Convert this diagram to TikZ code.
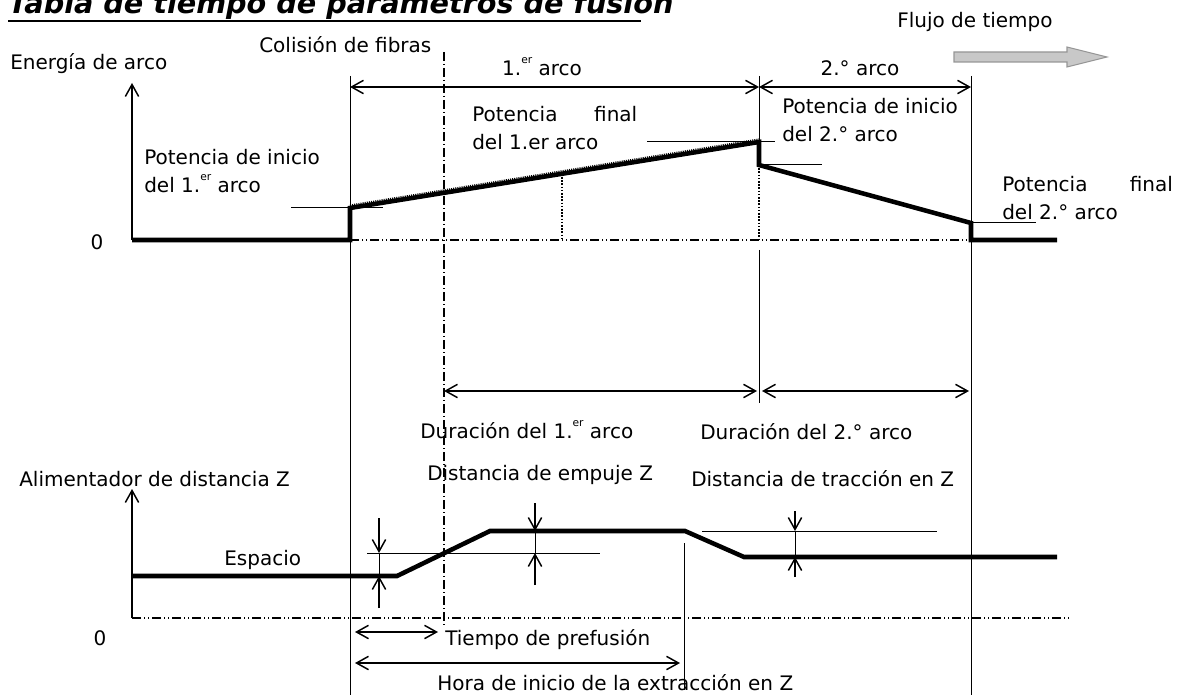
\documentclass[tikz,border=0pt]{standalone}
\usepackage{fontspec}
\setmainfont{DejaVu Sans}
\usetikzlibrary{arrows.meta}
\definecolor{arrowgray}{RGB}{200,200,200}
\definecolor{arrowedge}{RGB}{150,150,150}
\newcommand\supr[1]{\raisebox{0.6em}{\fontsize{8pt}{8pt}\selectfont #1}}
\begin{document}
\begin{tikzpicture}[x=0.75pt,y=-0.75pt,
  font=\fontsize{15pt}{21pt}\selectfont,
  thinln/.style={line width=0.75pt},
  axisln/.style={line width=1.1pt,-{Straight Barb[length=9pt,width=10pt]}},
  thickln/.style={line width=3.4pt},
  dimarr/.style={line width=1.1pt,{Straight Barb[length=9pt,width=10pt]}-{Straight Barb[length=9pt,width=10pt]}},
  onearr/.style={line width=1.1pt,-{Straight Barb[length=9pt,width=10pt]}},
  dashdot/.style={line width=0.9pt,dash pattern=on 7pt off 2pt on 1pt off 2pt},
  dashdotdot/.style={line width=0.9pt,dash pattern=on 7pt off 2pt on 1pt off 2pt on 1pt off 2pt},
  dotln/.style={line width=1.6pt,dash pattern=on 1.2pt off 1.2pt},
  lbl/.style={anchor=west,inner sep=0pt,align=left}]
\useasboundingbox (0,0) rectangle (1177,695);

% title
\node[anchor=base west,inner sep=0pt,font=\fontsize{21.5pt}{23pt}\selectfont\bfseries\itshape] (title) at (8,14) {Tabla de tiempo de parámetros de fusión};
\coordinate (u1) at (8,21); \coordinate (u2) at (641,21);
\draw[line width=1.6pt] (u1) -- (u2);

% time flow arrow
\node[lbl] (flujo) at (897,22) {Flujo de tiempo};
\draw[fill=arrowgray,draw=arrowedge,line width=0.8pt] (954,52) -- (1067,52) -- (1067,47) -- (1107,57) -- (1067,67) -- (1067,62) -- (954,62) -- cycle;

% labels top
\node[lbl] (colision) at (259,45) {Colisión de fibras};
\node[lbl] (energia) at (10,64) {Energía de arco};
\node[inner sep=0pt] (arco1) at (542,67) {1.\supr{er} arco};
\node[inner sep=0pt] (arco2) at (860,68) {2.° arco};
\node[lbl] (pi1) at (144,171) {Potencia de inicio\\del 1.\supr{er} arco};
\node[lbl] (pf1) at (472,128) {\makebox[123.75pt][l]{Potencia\hfill final}\\del 1.er arco};
\node[lbl] (pi2) at (782,120) {Potencia de inicio\\del 2.° arco};
\node[lbl] (pf2) at (1002,198) {\makebox[128pt][l]{Potencia\hfill final}\\del 2.° arco};
\node[inner sep=0pt] (cero1) at (97,242) {0};

% key coordinates top graph
\coordinate (A0) at (132,83);
\coordinate (A1) at (132,240);
\coordinate (S1) at (350,240);
\coordinate (S2) at (350,208);
\coordinate (E1) at (759,142);
\coordinate (E2) at (759,165);
\coordinate (F1) at (971,223);
\coordinate (F2) at (971,240);
\coordinate (F3) at (1057,240);
\coordinate (S2u) at (350,205.5);
\coordinate (E1u) at (759,139.5);

% vertical reference lines
\coordinate (v1t) at (350,76); \coordinate (v1b) at (350,695);
\coordinate (v3t) at (971,76); \coordinate (v3b) at (971,695);
\coordinate (v2t) at (759,76);
\coordinate (v2m) at (759,250); \coordinate (v2b) at (759,403);
\coordinate (ddt) at (444,52); \coordinate (ddb) at (444,625);
\draw[thinln] (v1t) -- (v1b);
\draw[thinln] (v3t) -- (v3b);
\draw[thinln] (v2t) -- (E1);
\draw[thinln] (v2m) -- (v2b);
\draw[dashdot] (ddt) -- (ddb);

% dimension arrows top
\coordinate (d1a) at (350,87); \coordinate (d1b) at (759,87); \coordinate (d2b) at (971,87);
\draw[dimarr] (d1a) -- (d1b);
\draw[dimarr] (d1b) -- (d2b);

% top graph
\draw[axisln] (A1) -- (A0);
\draw[dashdotdot] (S1) -- (F2);
\coordinate (dt1) at (562,177); \coordinate (db1) at (562,240);
\draw[dotln] (dt1) -- (db1);
\draw[dotln] (E2) -- (759,240);
\draw[thickln] (A1) -- (S1) -- (S2) -- (E1) -- (E2) -- (F1) -- (F2) -- (F3);
\draw[line width=1.6pt,dash pattern=on 0.8pt off 0.8pt] (S2u) -- (E1u);
% level marks
\draw[thinln] (291,208) -- (383,208);
\draw[thinln] (647,142) -- (775,142);
\draw[thinln] (E2) -- (822,165);
\draw[thinln] (F1) -- (1036,223);

% durations
\coordinate (du1a) at (444,391); \coordinate (du1b) at (757,391);
\coordinate (du2a) at (762,391); \coordinate (du2b) at (969,391);
\draw[dimarr] (du1a) -- (du1b);
\draw[dimarr] (du2a) -- (du2b);
\node[lbl] (dur1) at (420,430) {Duración del 1.\supr{er} arco};
\node[lbl] (dur2) at (700,432) {Duración del 2.° arco};
\node[lbl] (emp) at (427,475) {Distancia de empuje Z};
\node[lbl] (trac) at (691,479) {Distancia de tracción en Z};
\node[lbl] (alim) at (19,479) {Alimentador de distancia Z};

% lower graph
\coordinate (B0) at (132,489);
\coordinate (B1) at (132,618);
\coordinate (Z1) at (132,576);
\coordinate (Z2) at (397,576);
\coordinate (Z3) at (490,531);
\coordinate (Z4) at (685,531);
\coordinate (Z5) at (744,557);
\coordinate (Z6) at (1057,557);
\coordinate (B2) at (1070,618);
\draw[axisln] (B1) -- (B0);
\draw[dashdotdot] (B1) -- (B2);
\draw[thickln] (Z1) -- (Z2) -- (Z3) -- (Z4) -- (Z5) -- (Z6);
\node[lbl] (esp) at (224,560) {Espacio};
\node[inner sep=0pt] (cero2) at (100,638) {0};

% level marks lower
\draw[thinln] (367,553) -- (600,553);
\draw[thinln] (702,531) -- (937,531);
% gap markers
\draw[onearr] (379,518) -- (379,553);
\draw[thinln] (379,553) -- (379,576);
\draw[onearr] (379,608) -- (379,576);
\draw[onearr] (535,503) -- (535,531);
\draw[thinln] (535,531) -- (535,553);
\draw[onearr] (535,585) -- (535,553);
\draw[onearr] (795,511) -- (795,531);
\draw[thinln] (795,531) -- (795,557);
\draw[onearr] (795,577) -- (795,557);

% extraction start line
\coordinate (xt) at (684,543); \coordinate (xb) at (684,690);
\draw[thinln] (xt) -- (xb);

% time arrows lower
\coordinate (p1) at (355,632); \coordinate (p2) at (438,632);
\coordinate (h1) at (355,663); \coordinate (h2) at (680,663);
\draw[dimarr] (p1) -- (p2);
\draw[dimarr] (h1) -- (h2);
\node[lbl] (pref) at (445,640) {Tiempo de prefusión};
\node[lbl] (hora) at (437,683) {Hora de inicio de la extracción en Z};
\end{tikzpicture}
\end{document}
